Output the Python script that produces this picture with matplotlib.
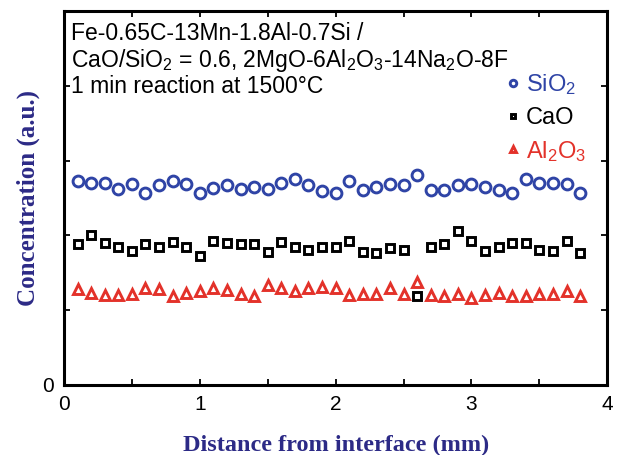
import numpy as np
import matplotlib
matplotlib.use("Agg")
import matplotlib.pyplot as plt

# ==========================
# Data
# ==========================

distance = np.round(np.arange(1, 39) * 0.1, 1)   # 0.1 ... 3.8 mm

sio2 = [2.72, 2.70, 2.70, 2.62, 2.68, 2.56, 2.67, 2.72, 2.69, 2.56,
        2.63, 2.67, 2.62, 2.64, 2.62, 2.70, 2.75, 2.67, 2.59, 2.56,
        2.73, 2.61, 2.64, 2.68, 2.67, 2.81, 2.61, 2.61, 2.67, 2.68,
        2.65, 2.60, 2.56, 2.75, 2.70, 2.70, 2.69, 2.57]

cao = [1.89, 2.00, 1.90, 1.85, 1.79, 1.88, 1.85, 1.91, 1.85, 1.73,
       1.92, 1.90, 1.89, 1.88, 1.78, 1.91, 1.85, 1.81, 1.84, 1.84,
       1.92, 1.78, 1.76, 1.83, 1.81, 1.19, 1.85, 1.88, 2.06, 1.92,
       1.79, 1.85, 1.90, 1.90, 1.81, 1.79, 1.92, 1.76]

al2o3 = [1.28, 1.23, 1.20, 1.20, 1.21, 1.29, 1.28, 1.19, 1.23, 1.26,
         1.29, 1.27, 1.22, 1.19, 1.33, 1.29, 1.26, 1.29, 1.31, 1.30,
         1.20, 1.22, 1.22, 1.30, 1.22, 1.38, 1.20, 1.19, 1.22, 1.16,
         1.20, 1.23, 1.19, 1.19, 1.22, 1.22, 1.25, 1.19]

x_ticks = [0, 0.5, 1, 1.5, 2, 2.5, 3, 3.5, 4]
x_tick_labels = ["0", "", "1", "", "2", "", "3", "", "4"]
y_ticks = [0, 1, 2, 3, 4, 5]
y_tick_labels = ["0", "", "", "", "", ""]

info_lines = [
    "Fe-0.65C-13Mn-1.8Al-0.7Si /",
    "CaO/SiO$_2$ = 0.6, 2MgO-6Al$_2$O$_3$-14Na$_2$O-8F",
    "1 min reaction at 1500\u00b0C",
]

# ==========================
# Style
# ==========================

plt.rcParams["font.family"] = ["Liberation Sans", "DejaVu Sans"]
plt.rcParams["mathtext.fontset"] = "custom"
plt.rcParams["mathtext.rm"] = "Liberation Sans"
plt.rcParams["mathtext.it"] = "Liberation Sans:italic"
plt.rcParams["mathtext.bf"] = "Liberation Sans:bold"

blue = "#2f44a6"
red = "#e3322a"
label_color = "#2c2a86"

fig = plt.figure(figsize=(6.17, 4.55), dpi=100)
ax = fig.add_axes([0.1037, 0.154, 0.8806, 0.822])

ax.plot(distance, sio2, linestyle="none", marker="o", markersize=7.8,
        color=blue, markerfacecolor="none", markeredgewidth=2.1,
        label="SiO$_2$")
ax.plot(distance, cao, linestyle="none", marker="s", markersize=5.8,
        color="black", markerfacecolor="none", markeredgewidth=2.1,
        label="CaO")
ax.plot(distance, al2o3, linestyle="none", marker="^", markersize=7.6,
        color=red, markerfacecolor="none", markeredgewidth=2.1,
        label="Al$_2$O$_3$")

ax.set_xlim(0, 4)
ax.set_ylim(0, 5)
ax.set_xticks(x_ticks)
ax.set_xticklabels(x_tick_labels)
ax.set_yticks(y_ticks)
ax.set_yticklabels(y_tick_labels)

ax.tick_params(direction="in", length=4, width=1.3, top=True, right=True,
               labelsize=15, pad=7)
for spine in ax.spines.values():
    spine.set_linewidth(2.2)

ax.set_xlabel("Distance from interface (mm)", family="Liberation Serif",
              fontweight="bold", fontsize=17.5, color=label_color, labelpad=15)
ax.set_ylabel("Concentration (a.u.)", family="Liberation Serif",
              fontweight="bold", fontsize=18, color=label_color, labelpad=2)

# composition text in the upper left corner
for line, y in zip(info_lines, [0.922, 0.850, 0.781]):
    ax.text(0.012, y, line, transform=ax.transAxes, fontsize=16.5,
            va="baseline", ha="left")

leg = ax.legend(loc="upper right", bbox_to_anchor=(0.978, 0.862),
                frameon=False, fontsize=17, markerscale=0.6,
                handlelength=0.6, handletextpad=0.25, labelspacing=0.42,
                labelcolor="linecolor", borderaxespad=0.0)

fig.savefig("out.png", dpi=100)
